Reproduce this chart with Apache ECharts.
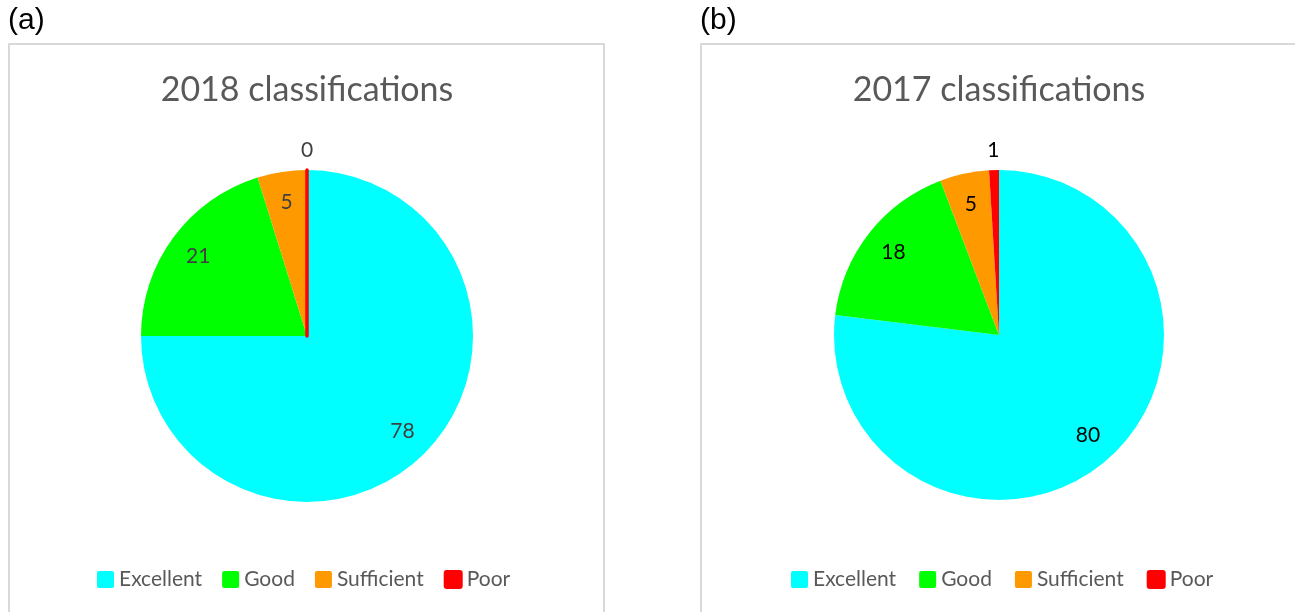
<!DOCTYPE html>
<html>
<head>
<meta charset="utf-8">
<script src="https://cdn.jsdelivr.net/npm/echarts@6/dist/echarts.min.js"></script>
<style>
html,body{margin:0;padding:0;background:#fff;}
#chart{width:1295px;height:612px;}
</style>
</head>
<body>
<div id="chart"></div>
<script>
const categories = ['Excellent', 'Good', 'Sufficient', 'Poor'];
const values2018 = [78, 21, 5, 0];
const values2017 = [80, 18, 5, 1];
const sliceColors = ['#00ffff', '#00ff00', '#ff9900', '#ff0000'];
const titles = ['2018 classifications', '2017 classifications'];
const panelTags = ['(a)', '(b)'];

const FONT = 'Lato';
const chart = echarts.init(document.getElementById('chart'), null, {renderer: 'canvas'});

function pieSet(values, center, R, labelColor) {
  const sum = values.reduce((a, b) => a + b, 0);
  const tiny = v => v / sum < 0.02;
  const base = {
    type: 'pie', center: center, startAngle: 90, clockwise: true,
    avoidLabelOverlap: false, labelLine: {show: false}, emphasis: {disabled: true}
  };
  const main = Object.assign({}, base, {
    radius: [0, R],
    label: {show: false},
    data: values.map((v, i) => ({
      name: categories[i], value: v,
      itemStyle: {color: sliceColors[i], borderColor: sliceColors[i], borderWidth: v === 0 ? 3.5 : 0}
    }))
  });
  const labelStyle = {color: labelColor, fontFamily: FONT, fontSize: 21, formatter: '{c}'};
  const inner = Object.assign({}, base, {
    radius: [R * 0.6, R * 0.99], silent: true,
    itemStyle: {color: 'rgba(0,0,0,0)'},
    data: values.map((v, i) => ({
      name: categories[i], value: v,
      label: Object.assign({show: !tiny(v), position: 'inside'}, labelStyle)
    }))
  });
  const outer = Object.assign({}, base, {
    radius: [R * 1.03, R * 1.17], silent: true,
    itemStyle: {color: 'rgba(0,0,0,0)'},
    data: values.map((v, i) => ({
      name: categories[i], value: v,
      label: Object.assign({show: tiny(v), position: 'inside'}, labelStyle)
    }))
  });
  return [main, inner, outer];
}

function legend(left, gap) {
  return {
    left: left, top: 569, orient: 'horizontal', padding: 0,
    data: categories, icon: 'path://M2,0H15Q17,0 17,2V15Q17,17 15,17H2Q0,17 0,15V2Q0,0 2,0Z',
    itemWidth: 17, itemHeight: 17, itemGap: gap,
    selectedMode: false,
    textStyle: {color: '#595959', fontFamily: FONT, fontSize: 21}
  };
}

const option = {
  animation: false,
  backgroundColor: '#ffffff',
  graphic: [
    {type: 'rect', shape: {x: 9, y: 44, width: 595, height: 620}, style: {fill: 'none', stroke: '#d9d9d9', lineWidth: 2}},
    {type: 'rect', shape: {x: 701, y: 44, width: 620, height: 620}, style: {fill: 'none', stroke: '#d9d9d9', lineWidth: 2}},
    {type: 'text', left: 8, top: 6, style: {text: panelTags[0], font: '30px "Liberation Sans", Arial', fill: '#000'}},
    {type: 'text', left: 700, top: 6, style: {text: panelTags[1], font: '30px "Liberation Sans", Arial', fill: '#000'}}
  ],
  title: [
    {text: titles[0], left: 307, top: 73, padding: 0, textAlign: 'center', textStyle: {color: '#595959', fontFamily: FONT, fontSize: 34, fontWeight: 'normal'}},
    {text: titles[1], left: 999, top: 73, padding: 0, textAlign: 'center', textStyle: {color: '#595959', fontFamily: FONT, fontSize: 34, fontWeight: 'normal'}}
  ],
  legend: [legend(97, 20), legend(791, 23)],
  series: [].concat(
    pieSet(values2018, [307, 336], 166, '#404040'),
    pieSet(values2017, [999, 335], 165, '#000000')
  )
};
chart.setOption(option);
</script>
</body>
</html>
